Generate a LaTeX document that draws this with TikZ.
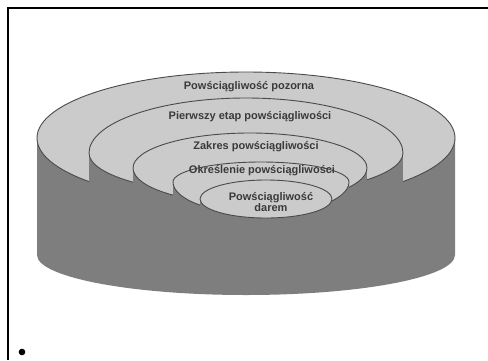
\documentclass[tikz,border=0pt]{standalone}
\usepackage{fontspec}
\setmainfont{Liberation Sans}
\definecolor{ledge}{HTML}{CBCBCB}
\definecolor{wall}{HTML}{7E7E7E}
\definecolor{rim}{HTML}{4A4A4A}
\definecolor{ink}{HTML}{3A3A3A}
\tikzset{
  ledgefill/.style={fill=ledge, draw=rim, line width=0.9pt},
  wallfill/.style={fill=wall},
  lbl/.style={text=ink, font=\bfseries\fontsize{11}{11}\selectfont, inner sep=0pt, align=center},
  frameline/.style={line width=1.6pt, black}
}
% #1 centre name, #2 half width, #3 upper half height, #4 lower half height
\newcommand\drawledge[4]{%
  \path[ledgefill] ([xshift=-#2pt]#1) arc[start angle=180,end angle=0,x radius=#2pt,y radius=#3pt]
     arc[start angle=0,end angle=-180,x radius=#2pt,y radius=#4pt] -- cycle;}
\begin{document}
\begin{tikzpicture}[x=1pt,y=-1pt]
\useasboundingbox (0,0) rectangle (488,360);
% frame
\coordinate (fbl) at (8,360);
\coordinate (ftl) at (8,8);
\coordinate (ftr) at (488,8);
\draw[frameline] (fbl) -- (ftl) -- (ftr);
\coordinate (dot) at (22,352);
\fill (dot) circle[radius=3.3pt];
% body of the cylinder
\fill[wallfill] (37,138) -- (37,255) arc[start angle=180,end angle=360,x radius=209pt,y radius=40pt] -- (455,138) -- cycle;
% levels
\coordinate (c1) at (246,138);
\coordinate (c2) at (246,153);
\coordinate (c3) at (250,168);
\coordinate (c4) at (261,182);
\coordinate (c5) at (266,199);
\drawledge{c1}{209}{66}{66}
\fill[wallfill] (89,153) rectangle (403,252);
\drawledge{c2}{157}{55}{42}
\fill[wallfill] (133,168) rectangle (367,252);
\drawledge{c3}{117}{35}{36}
\fill[wallfill] (173,182) rectangle (349,252);
\drawledge{c4}{88}{20}{32}
\fill[wallfill] (200,199) rectangle (332,252);
\drawledge{c5}{66}{19}{19}
% labels
\node[lbl] (t1) at (249,87) {Powściągliwość pozorna};
\node[lbl] (t2) at (250,117) {Pierwszy etap powściągliwości};
\node[lbl] (t3) at (256,147) {Zakres powściągliwości};
\node[lbl] (t4) at (262,171) {Określenie powściągliwości};
\node[lbl] (t5) at (271,202) {Powściągliwość\\darem};
\end{tikzpicture}
\end{document}
